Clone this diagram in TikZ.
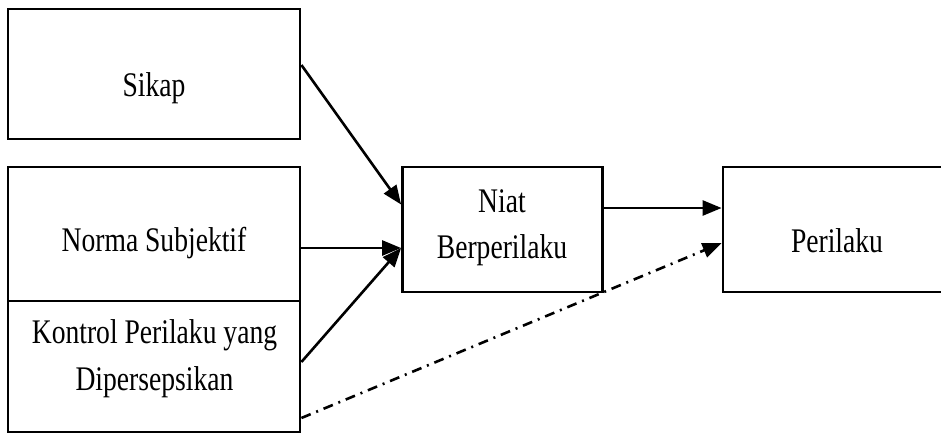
\documentclass[tikz,border=0pt]{standalone}
\usepackage{fontspec}
\setmainfont{Liberation Serif}[FakeStretch=0.80]
\usetikzlibrary{arrows.meta}
\begin{document}
\begin{tikzpicture}[x=1pt,y=1pt,
  box/.style={draw=black,line width=2.8pt,rectangle,inner sep=0pt},
  lbl/.style={font=\fontsize{34.5}{46}\selectfont,inner sep=0pt,anchor=base},
  arr/.style={line width=2.6pt,-{Triangle[length=19pt,width=15pt]}},
  dashdotarr/.style={line width=2.6pt,dash pattern=on 10pt off 6pt on 2pt off 6pt,-{Triangle[length=19pt,width=15pt]}}]
\useasboundingbox (0,0) rectangle (941,-433);
% boxes
\node[box,minimum width=292pt,minimum height=130pt] (sikap) at (154,-74) {};
\node[box,minimum width=292pt,minimum height=134pt] (norma) at (154,-234) {};
\node[box,minimum width=292pt,minimum height=131pt] (kontrol) at (154,-366.5) {};
\node[box,minimum width=200pt,minimum height=125pt] (niat) at (502.5,-229.5) {};
\node[box,minimum width=224pt,minimum height=125pt] (perilaku) at (835,-229.5) {};
% labels
\node[lbl] (sikapT) at (154,-96) {Sikap};
\node[lbl] (normaT) at (154,-251) {Norma Subjektif};
\node[lbl] (kontrolT1) at (154.5,-343.5) {Kontrol Perilaku yang};
\node[lbl] (kontrolT2) at (154.5,-390) {Dipersepsikan};
\node[lbl] (niatT1) at (502,-212) {Niat};
\node[lbl] (niatT2) at (502,-258) {Berperilaku};
\node[lbl] (perilakuT) at (837,-252) {Perilaku};
% connectors
\draw[arr] ([yshift=9pt]sikap.east) -- ([yshift=25pt]niat.west);
\draw[arr] ([yshift=-14pt]norma.east) -- ([yshift=-18.5pt]niat.west);
\draw[arr] ([yshift=4.5pt]kontrol.east) -- ([yshift=-18.5pt]niat.west);
\draw[arr] ([yshift=21.5pt]niat.east) -- ([yshift=21.5pt]perilaku.west);
\draw[dashdotarr] ([yshift=-51.5pt]kontrol.east) -- ([yshift=-13.5pt]perilaku.west);
\end{tikzpicture}
\end{document}
